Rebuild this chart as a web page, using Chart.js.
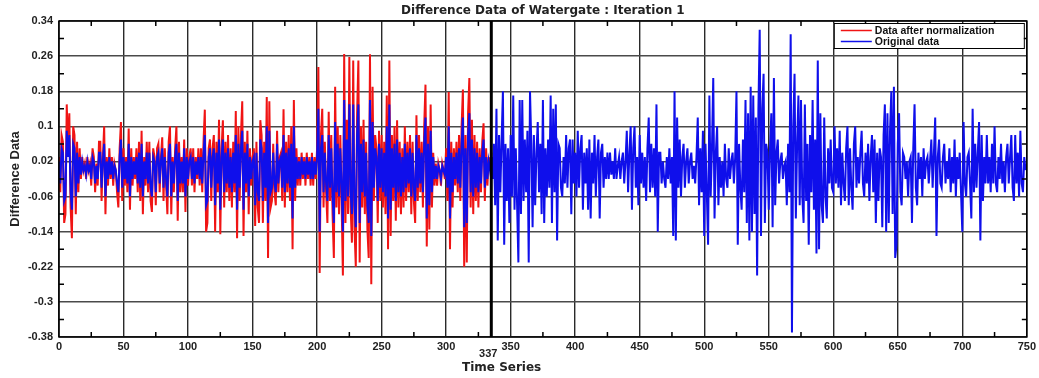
<!DOCTYPE html>
<html>
<head>
<meta charset="utf-8">
<title>Difference Data of Watergate</title>
<script src="https://cdn.jsdelivr.net/npm/chart.js@4.4.1/dist/chart.umd.min.js"></script>
<style>
  html, body { margin: 0; padding: 0; background: #fff; }
  #wrap { position: relative; width: 1039px; height: 378px; }
</style>
</head>
<body>
<div id="wrap"><canvas id="diffChart" width="1039" height="378"></canvas></div>
<script>
// Text
const chartTitle = 'Difference Data of Watergate : Iteration 1';
const xTitle = 'Time Series';
const yTitle = 'Difference Data';
const seriesNames = ['Data after normalization', 'Original data'];

// Axis ticks
const xTicks = [0, 50, 100, 150, 200, 250, 300, 350, 400, 450, 500, 550, 600, 650, 700, 750];
const xMinorTicks = [25, 75, 125, 175, 225, 275, 325, 375, 425, 475, 525, 575, 625, 675, 725];
const yTicks = [-0.38, -0.3, -0.22, -0.14, -0.06, 0.02, 0.1, 0.18, 0.26, 0.34];
const yMinorTicks = [-0.34, -0.26, -0.18, -0.1, -0.02, 0.06, 0.14, 0.22, 0.3];

// Split marker (end of normalized part)
const splitIndex = 335;
const splitLabel = '337';

// Data after normalization (samples 0..335)
const normalizedData = [
  0.03, -0.05, 0.08, 0.065, -0.12, -0.10, 0.15, 0.05, 0.13, -0.085, -0.155, 0.10, 0.08, -0.10, 0.065, -0.05, 0.05, -0.02, 0.03, 0.00, 0.015, -0.02, 0.03, 0.00, 0.015,
  -0.035, 0.05, 0.03, -0.05, 0.015, -0.035, 0.065, 0.065, -0.07, 0.03, 0.10, -0.10, 0.03, -0.035, 0.05, -0.02, 0.03, -0.035, 0.015, 0.00, -0.05, -0.085, 0.05, 0.11, -0.07,
  0.05, -0.035, 0.03, -0.05, 0.095, -0.09, 0.05, -0.035, 0.03, -0.02, 0.05, -0.05, 0.065, -0.07, 0.09, -0.10, 0.03, -0.035, 0.065, -0.05, 0.065, -0.07, -0.095, 0.05, 0.03,
  -0.08, 0.05, 0.06, -0.05, 0.03, 0.075, -0.07, 0.05, -0.035, -0.10, 0.065, 0.10, -0.10, 0.03, -0.05, 0.05, 0.10, -0.115, 0.065, -0.05, 0.03, -0.05, 0.07, -0.095, 0.05,
  -0.035, 0.03, 0.05, -0.035, 0.05, -0.05, 0.03, -0.02, 0.05, -0.035, 0.05, -0.05, 0.065, 0.138, -0.14, -0.12, 0.05, 0.07, -0.07, 0.05, 0.08, -0.14, 0.065, -0.05, 0.115,
  -0.146, 0.05, 0.114, -0.085, 0.065, -0.05, 0.08, -0.07, 0.05, -0.085, 0.065, -0.05, 0.135, -0.155, 0.10, -0.07, 0.08, 0.157, -0.15, 0.065, -0.05, 0.09, -0.10, 0.05, -0.035,
  0.03, 0.05, -0.127, 0.065, -0.085, -0.12, 0.114, 0.08, -0.12, 0.065, -0.07, 0.167, -0.20, 0.157, -0.085, -0.07, 0.06, -0.05, -0.08, 0.09, -0.05, 0.03, 0.04, -0.07, 0.139,
  -0.085, 0.065, -0.05, 0.08, -0.07, 0.10, -0.18, 0.16, -0.07, 0.05, -0.035, 0.03, -0.035, 0.04, -0.02, 0.03, -0.035, 0.04, -0.02, 0.03, -0.035, 0.04, -0.035, 0.03, -0.02,
  0.05, 0.235, -0.234, 0.08, 0.14, -0.085, 0.065, -0.05, -0.12, 0.133, -0.07, 0.08, -0.10, -0.20, 0.19, -0.085, 0.10, -0.10, 0.08, -0.07, -0.24, 0.265, -0.12, 0.115, -0.10,
  0.258, -0.085, -0.165, 0.25, -0.135, -0.22, 0.13, 0.25, -0.21, 0.10, -0.085, 0.115, -0.10, 0.065, -0.135, -0.20, 0.264, -0.26, 0.19, -0.07, 0.08, 0.05, -0.12, 0.09, -0.07,
  0.08, -0.085, 0.065, -0.10, 0.17, -0.18, 0.25, -0.15, 0.08, -0.07, 0.10, -0.115, 0.114, -0.085, 0.065, -0.10, 0.05, -0.085, 0.10, -0.07, 0.065, -0.05, 0.08, -0.10, 0.065,
  -0.07, -0.12, 0.125, -0.07, 0.08, -0.05, 0.065, -0.085, 0.10, 0.195, -0.174, 0.10, -0.135, 0.15, -0.085, 0.04, -0.035, 0.015, -0.035, 0.015, 0.00, -0.035, 0.015, 0.00, -0.02,
  0.05, -0.07, 0.178, -0.18, 0.065, -0.085, 0.05, -0.035, 0.065, -0.05, 0.08, -0.07, 0.10, 0.184, -0.22, 0.08, -0.21, 0.13, 0.21, -0.085, 0.115, -0.10, 0.08, -0.07, 0.065,
  -0.085, 0.05, -0.05, 0.065, 0.107, -0.07, 0.05, -0.035, 0.03, 0.00, 0.04
];

// Original data (samples 0..749)
const originalData = [
  0.02, -0.03, 0.05, 0.04, -0.07, -0.06, 0.09, 0.03, 0.08, -0.05, -0.09, 0.06, 0.05, -0.06, 0.04, -0.03, 0.03, -0.01, 0.02, 0.00, 0.01, -0.01, 0.02, 0.00, 0.01,
  -0.02, 0.03, 0.02, -0.03, 0.01, -0.02, 0.04, 0.04, -0.04, 0.02, 0.06, -0.06, 0.02, -0.02, 0.03, -0.01, 0.02, -0.02, 0.01, 0.00, -0.03, -0.05, 0.03, 0.07, -0.04,
  0.03, -0.02, 0.02, -0.03, 0.06, -0.06, 0.03, -0.02, 0.02, -0.01, 0.03, -0.03, 0.04, -0.04, 0.06, -0.06, 0.02, -0.02, 0.04, -0.03, 0.04, -0.04, -0.06, 0.03, 0.02,
  -0.05, 0.03, 0.04, -0.03, 0.02, 0.05, -0.04, 0.03, -0.02, -0.06, 0.04, 0.06, -0.06, 0.02, -0.03, 0.03, 0.06, -0.07, 0.04, -0.03, 0.02, -0.03, 0.05, -0.06, 0.03,
  -0.02, 0.02, 0.03, -0.02, 0.03, -0.03, 0.02, -0.01, 0.03, -0.02, 0.03, -0.03, 0.04, 0.08, -0.08, -0.07, 0.03, 0.05, -0.04, 0.03, 0.05, -0.08, 0.04, -0.03, 0.07,
  -0.09, 0.03, 0.07, -0.05, 0.04, -0.03, 0.05, -0.04, 0.03, -0.05, 0.04, -0.03, 0.08, -0.09, 0.06, -0.04, 0.05, 0.09, -0.09, 0.04, -0.03, 0.06, -0.06, 0.03, -0.02,
  0.02, 0.03, -0.08, 0.04, -0.05, -0.07, 0.07, 0.05, -0.07, 0.04, -0.04, 0.10, -0.12, 0.09, -0.05, -0.04, 0.04, -0.03, -0.05, 0.06, -0.03, 0.02, 0.03, -0.04, 0.08,
  -0.05, 0.04, -0.03, 0.05, -0.04, 0.06, -0.11, 0.10, -0.04, 0.03, -0.02, 0.02, -0.02, 0.03, -0.01, 0.02, -0.02, 0.03, -0.01, 0.02, -0.02, 0.03, -0.02, 0.02, -0.01,
  0.03, 0.14, -0.14, 0.05, 0.08, -0.05, 0.04, -0.03, -0.07, 0.08, -0.04, 0.05, -0.06, -0.12, 0.11, -0.05, 0.06, -0.06, 0.05, -0.04, -0.14, 0.16, -0.07, 0.07, -0.06,
  0.15, -0.05, -0.10, 0.15, -0.08, -0.13, 0.08, 0.15, -0.12, 0.06, -0.05, 0.07, -0.06, 0.04, -0.08, -0.12, 0.16, -0.15, 0.11, -0.04, 0.05, 0.03, -0.07, 0.06, -0.04,
  0.05, -0.05, 0.04, -0.06, 0.10, -0.11, 0.15, -0.09, 0.05, -0.04, 0.06, -0.07, 0.07, -0.05, 0.04, -0.06, 0.03, -0.05, 0.06, -0.04, 0.04, -0.03, 0.05, -0.06, 0.04,
  -0.04, -0.07, 0.08, -0.04, 0.05, -0.03, 0.04, -0.05, 0.06, 0.12, -0.11, 0.06, -0.08, 0.09, -0.05, 0.03, -0.02, 0.01, -0.02, 0.01, 0.00, -0.02, 0.01, 0.00, -0.01,
  0.03, -0.04, 0.10, -0.11, 0.04, -0.05, 0.03, -0.02, 0.04, -0.03, 0.05, -0.04, 0.06, 0.12, -0.13, 0.05, -0.12, 0.08, 0.13, -0.05, 0.07, -0.06, 0.05, -0.04, 0.04,
  -0.05, 0.03, -0.03, 0.04, 0.07, -0.04, 0.03, -0.02, 0.02, 0.00, 0.03, -0.02, 0.06, -0.08, 0.14, -0.16, 0.08, -0.05, 0.07, 0.18, -0.17, 0.06, -0.07, 0.05, -0.12,
  0.08, -0.06, 0.17, -0.09, 0.05, -0.08, -0.21, 0.16, -0.10, 0.16, -0.07, 0.07, -0.05, 0.09, -0.21, 0.18, 0.06, -0.13, 0.08, -0.08, 0.04, 0.11, -0.05, 0.06, -0.10,
  0.16, -0.12, 0.05, -0.06, 0.07, -0.04, 0.17, -0.12, 0.14, -0.05, 0.15, -0.16, 0.06, 0.05, -0.04, -0.06, 0.03, -0.03, 0.08, -0.04, 0.05, 0.07, -0.10, 0.07, -0.03,
  0.04, -0.06, 0.09, -0.04, 0.05, 0.08, -0.09, 0.04, -0.03, 0.05, -0.09, 0.07, -0.11, 0.04, -0.03, 0.08, -0.06, 0.03, 0.07, -0.11, 0.04, 0.06, -0.04, 0.03, -0.02,
  0.04, -0.02, 0.04, -0.01, 0.02, -0.02, 0.05, -0.02, 0.01, 0.03, -0.02, 0.02, 0.04, -0.03, 0.02, 0.09, -0.05, 0.04, 0.10, -0.09, 0.05, 0.10, -0.04, 0.03, -0.08,
  0.08, -0.03, 0.04, -0.04, 0.03, -0.07, 0.05, 0.12, -0.05, 0.06, -0.04, 0.05, -0.06, 0.15, -0.14, 0.04, 0.04, -0.03, 0.02, -0.02, -0.04, 0.03, -0.02, 0.05, -0.03,
  0.03, -0.15, 0.18, -0.16, 0.12, -0.04, 0.07, -0.06, 0.03, 0.06, -0.04, 0.02, 0.05, -0.03, 0.02, 0.04, -0.02, 0.01, -0.03, 0.03, 0.12, -0.08, 0.05, -0.05, 0.09,
  -0.15, 0.06, -0.05, -0.17, 0.17, -0.06, 0.05, 0.21, -0.11, 0.04, 0.10, -0.08, 0.03, -0.04, 0.02, -0.06, 0.06, -0.02, -0.04, 0.05, -0.02, 0.02, 0.04, -0.03, 0.03,
  0.18, -0.17, 0.06, -0.04, -0.09, 0.07, -0.05, 0.16, -0.12, 0.13, -0.16, 0.19, -0.14, 0.17, -0.10, 0.12, -0.24, 0.14, 0.32, -0.15, 0.14, 0.22, -0.12, 0.06, 0.04,
  -0.09, 0.05, 0.13, -0.13, 0.21, -0.08, 0.04, 0.07, -0.03, 0.02, 0.04, -0.02, 0.01, 0.02, -0.08, 0.06, -0.05, 0.31, -0.37, 0.10, 0.22, -0.11, 0.06, 0.17, -0.08,
  0.16, -0.06, -0.12, 0.15, -0.07, 0.06, -0.17, 0.08, -0.05, 0.16, -0.09, 0.07, -0.19, 0.25, -0.18, 0.13, -0.08, -0.12, 0.12, -0.06, -0.11, 0.05, -0.03, 0.07, -0.04,
  -0.05, 0.10, -0.03, 0.05, -0.04, 0.09, -0.08, 0.04, -0.03, -0.07, 0.05, 0.10, -0.08, 0.05, -0.04, -0.09, 0.06, 0.10, -0.04, 0.03, -0.03, 0.04, 0.09, -0.03, -0.06,
  0.04, -0.03, 0.06, -0.07, 0.03, 0.08, -0.05, 0.07, -0.12, 0.04, -0.07, 0.05, 0.03, -0.13, 0.08, 0.15, -0.14, 0.13, -0.12, 0.09, 0.18, -0.10, 0.19, -0.20, -0.17,
  0.06, 0.13, -0.05, -0.08, 0.04, 0.03, -0.02, 0.02, -0.06, 0.02, 0.03, -0.12, 0.05, 0.15, -0.04, -0.08, 0.04, -0.02, 0.03, -0.06, 0.05, -0.02, 0.02, 0.03, -0.03,
  0.02, 0.07, -0.04, 0.04, 0.12, -0.15, 0.03, 0.07, -0.03, -0.04, 0.03, 0.06, -0.03, 0.02, -0.02, 0.05, -0.05, 0.03, -0.03, 0.07, -0.06, 0.03, -0.02, 0.04, -0.05,
  -0.14, 0.11, -0.03, -0.06, 0.03, 0.04, -0.03, -0.11, 0.14, -0.05, 0.06, -0.04, 0.04, 0.11, -0.16, 0.08, -0.07, 0.03, -0.03, 0.08, -0.03, 0.03, -0.05, 0.06, -0.03,
  0.10, -0.03, -0.05, 0.03, -0.02, 0.06, -0.03, 0.02, -0.05, 0.03, 0.06, -0.03, 0.03, 0.08, -0.04, -0.07, 0.08, -0.03, 0.04, -0.06, 0.09, -0.03, -0.05, 0.03, 0.00
];

const colors = { normalized: 'rgb(240, 20, 20)', original: 'rgb(15, 15, 235)' };
const tickFont = { family: '"Liberation Sans", Arial, sans-serif', size: 11, weight: 'bold' };

// Points as {x: sample index, y: value}
const toPoints = arr => arr.map((v, i) => ({ x: i, y: v }));

/**
 * Frame, inward tick marks, split line, titles and the boxed legend
 */
const decorations = {
  id: 'decorations',
  afterDraw(chart) {
    const { ctx, chartArea: area, scales: { x, y } } = chart;
    ctx.save();

    // thick split line at the end of the normalized part
    const sx = x.getPixelForValue(splitIndex);
    ctx.strokeStyle = '#000';
    ctx.lineWidth = 3;
    ctx.beginPath();
    ctx.moveTo(sx, area.top);
    ctx.lineTo(sx, area.bottom);
    ctx.stroke();

    // plot frame
    ctx.lineWidth = 1.5;
    ctx.strokeRect(area.left, area.top, area.right - area.left, area.bottom - area.top);

    // minor tick marks pointing inside
    ctx.lineWidth = 1.5;
    ctx.beginPath();
    xMinorTicks.forEach(v => {
      const px = x.getPixelForValue(v);
      ctx.moveTo(px, area.top); ctx.lineTo(px, area.top + 5);
      ctx.moveTo(px, area.bottom); ctx.lineTo(px, area.bottom - 5);
    });
    yMinorTicks.forEach(v => {
      const py = y.getPixelForValue(v);
      ctx.moveTo(area.left, py); ctx.lineTo(area.left + 5, py);
      ctx.moveTo(area.right, py); ctx.lineTo(area.right - 5, py);
    });
    ctx.stroke();

    // texts
    ctx.fillStyle = '#222';
    ctx.textAlign = 'center';
    ctx.textBaseline = 'middle';
    ctx.font = 'bold 12px "DejaVu Sans", sans-serif';
    ctx.fillText(chartTitle, (area.left + area.right) / 2, 11);
    ctx.fillText(xTitle, x.getPixelForValue(343), 368);

    ctx.font = 'bold 11px "Liberation Sans", Arial, sans-serif';
    ctx.fillText(splitLabel, sx - 3, 354);

    ctx.save();
    ctx.translate(15, (area.top + area.bottom) / 2);
    ctx.rotate(-Math.PI / 2);
    ctx.font = 'bold 13px "Liberation Sans Narrow", "Liberation Sans", Arial, sans-serif';
    ctx.fillText(yTitle, 0, 0);
    ctx.restore();

    // legend box
    const boxW = 190, boxH = 25;
    const bx = area.right - 3 - boxW, by = area.top + 2;
    ctx.fillStyle = '#fff';
    ctx.fillRect(bx, by, boxW, boxH);
    ctx.strokeStyle = '#000';
    ctx.lineWidth = 1;
    ctx.strokeRect(bx + 0.5, by + 0.5, boxW, boxH);
    const rows = [
      { name: seriesNames[0], color: colors.normalized },
      { name: seriesNames[1], color: colors.original }
    ];
    ctx.font = 'bold 10.5px "Liberation Sans", Arial, sans-serif';
    ctx.textAlign = 'left';
    rows.forEach((r, i) => {
      const ly = by + 7.5 + i * 11;
      ctx.strokeStyle = r.color;
      ctx.lineWidth = 1.5;
      ctx.beginPath();
      ctx.moveTo(bx + 7, ly);
      ctx.lineTo(bx + 38, ly);
      ctx.stroke();
      ctx.fillStyle = '#111';
      ctx.fillText(r.name, bx + 41, ly + 0.5);
    });

    ctx.restore();
  }
};

const ctx = document.getElementById('diffChart').getContext('2d');
const diffChart = new Chart(ctx, {
  type: 'line',
  data: {
    datasets: [
      {
        label: seriesNames[0],
        data: toPoints(normalizedData),
        borderColor: colors.normalized,
        borderWidth: 2,
        pointRadius: 0,
        tension: 0,
        fill: false,
        order: 1
      },
      {
        label: seriesNames[1],
        data: toPoints(originalData),
        borderColor: colors.original,
        borderWidth: 2,
        pointRadius: 0,
        tension: 0,
        fill: false,
        order: 0
      }
    ]
  },
  options: {
    responsive: false,
    animation: false,
    events: [],
    layout: { padding: { left: 0, right: 11, top: 21, bottom: 0 } },
    plugins: {
      legend: { display: false },
      title: { display: false },
      tooltip: { enabled: false }
    },
    scales: {
      x: {
        type: 'linear',
        min: 0,
        max: 750,
        afterBuildTicks: s => { s.ticks = xTicks.map(v => ({ value: v })); },
        afterFit: s => { s.height = 41; },
        grid: { color: '#2a2a2a', lineWidth: 1.4, drawTicks: false },
        border: { display: false },
        ticks: { font: tickFont, color: '#222', padding: 3, maxRotation: 0, autoSkip: false }
      },
      y: {
        type: 'linear',
        min: -0.38,
        max: 0.34,
        afterBuildTicks: s => { s.ticks = yTicks.map(v => ({ value: v })); },
        afterFit: s => { s.width = 59; },
        grid: { color: '#4a4a4a', lineWidth: 1.4, drawTicks: false },
        border: { display: false },
        ticks: {
          font: tickFont,
          color: '#222',
          padding: 6,
          autoSkip: false,
          callback: v => String(Math.round(v * 100) / 100)
        }
      }
    }
  },
  plugins: [decorations]
});
</script>
</body>
</html>
